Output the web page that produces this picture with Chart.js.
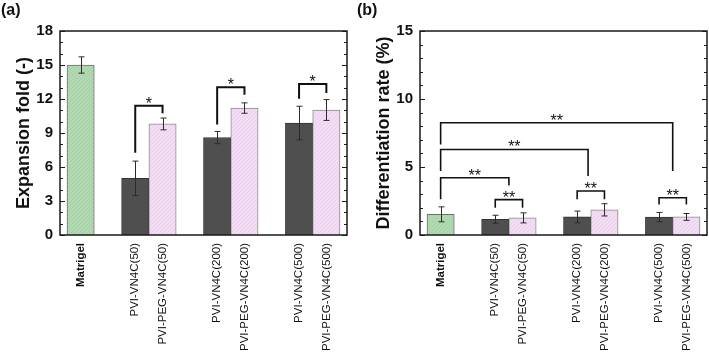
<!DOCTYPE html>
<html><head><meta charset="utf-8">
<script src="https://cdn.jsdelivr.net/npm/chart.js@4"></script>
<style>
html,body{margin:0;padding:0;background:#fff;width:709px;height:353px;overflow:hidden;}
.panel{position:absolute;top:0;height:353px;}
#pa{left:0;width:355px;}
#pb{left:355px;width:354px;}
.lbl{position:absolute;top:1px;font:bold 16px "Liberation Sans",Arial,sans-serif;color:#111;}
</style></head><body>
<div class="panel" id="pa"><canvas id="ca"></canvas></div>
<div class="panel" id="pb"><canvas id="cb"></canvas></div>
<div class="lbl" style="left:1px">(a)</div>
<div class="lbl" style="left:357px">(b)</div>
<script>
const FONT = '"Liberation Sans", Arial, sans-serif';

// ---- data ----
const groups = [
  ['Matrigel'],
  ['PVI-VN4C(50)', 'PVI-PEG-VN4C(50)'],
  ['PVI-VN4C(200)', 'PVI-PEG-VN4C(200)'],
  ['PVI-VN4C(500)', 'PVI-PEG-VN4C(500)']
];
const expansionFold = [15.0, 5.0, 9.8, 8.6, 11.2, 9.88, 11.03];
const expansionErr  = [0.72, 1.52, 0.52, 0.54, 0.46, 1.48, 0.92];
const diffRate      = [1.52, 1.16, 1.26, 1.33, 1.85, 1.32, 1.33];
const diffErr       = [0.55, 0.29, 0.37, 0.43, 0.45, 0.34, 0.25];
const expansionTicks = [0, 3, 6, 9, 12, 15, 18];
const diffTicks      = [0, 5, 10, 15];
// brackets: from/to in category index units, top and leg ends in value units
const expansionBrackets = [
  {from: 1, to: 2, top: 11.4,  ends: [7.25, 10.75], label: '*'},
  {from: 3, to: 4, top: 13.03, ends: [9.74, 12.38], label: '*'},
  {from: 5, to: 6, top: 13.32, ends: [12.03, 12.53], label: '*'}
];
const diffBrackets = [
  {from: 1, to: 2, top: 2.6,  ends: [2.0, 2.0],   label: '**'},
  {from: 3, to: 4, top: 3.23, ends: [2.62, 2.62], label: '**'},
  {from: 5, to: 6, top: 2.74, ends: [2.25, 2.25], label: '**'},
  {from: 0, to: 1.5, top: 4.21, ends: [2.62, 3.64], label: '**'},
  {from: 0, to: 3.4, top: 6.29, ends: [4.7, 4.33],  label: '**'},
  {from: 0, to: 5.5, top: 8.25, ends: [6.65, 4.7],  label: '**'}
];

// ---- derived tables ----
const categories = groups.flat();
const slots = [], slotLabels = [], slotGroup = [];
groups.forEach((g, gi) => {
  if (gi > 0) { slotLabels.push(''); slotGroup.push(-1); }
  g.forEach(c => { slots.push(slotLabels.length); slotLabels.push(c); slotGroup.push(gi); });
});
function catToSlot(c) {
  const i = Math.floor(c), f = c - i;
  if (f === 0 || i + 1 >= slots.length) return slots[Math.min(i, slots.length - 1)];
  return slots[i] + f * (slots[i + 1] - slots[i]);
}

function makePattern(base, line) {
  const c = document.createElement('canvas'); c.width = 4; c.height = 4;
  const g = c.getContext('2d');
  g.fillStyle = base; g.fillRect(0, 0, 4, 4);
  g.fillStyle = line;
  for (let i = 0; i < 4; i++) g.fillRect(i, 3 - i, 1, 1);
  return g.createPattern(c, 'repeat');
}
const greenFill = makePattern('#b2d9b2', '#a3d0a3');
const pinkFill  = makePattern('#f2ddf4', '#e8d0eb');
function fillFor(name) {
  if (name.startsWith('PVI-PEG')) return pinkFill;
  if (name.startsWith('PVI')) return '#4f4f4f';
  return greenFill;
}
function borderFor(name) {
  if (name.startsWith('PVI-PEG')) return '#8a8a8a';
  if (name.startsWith('PVI')) return '#333333';
  return '#6e6e6e';
}

const decor = {
  id: 'decor',
  afterDatasetsDraw(chart, args, o) {
    const {ctx, chartArea: a, scales: {x, y}} = chart;
    ctx.save();
    // error bars
    ctx.strokeStyle = '#2b2b2b'; ctx.lineWidth = 1;
    o.values.forEach((v, i) => {
      const px = Math.round(x.getPixelForValue(slots[i])) + 0.5;
      const hi = y.getPixelForValue(v + o.errs[i]), lo = y.getPixelForValue(v - o.errs[i]);
      ctx.beginPath();
      ctx.moveTo(px, hi); ctx.lineTo(px, lo);
      ctx.moveTo(px - 3, hi); ctx.lineTo(px + 3, hi);
      ctx.moveTo(px - 3, lo); ctx.lineTo(px + 3, lo);
      ctx.stroke();
    });
    // frame
    ctx.strokeStyle = '#1a1a1a'; ctx.lineWidth = 1.5;
    ctx.strokeRect(a.left, a.top, a.right - a.left, a.bottom - a.top);
    // ticks (inward, left and right)
    ctx.lineWidth = 1;
    for (let v = 0; v <= y.max + 1e-9; v += 1) {
      const py = Math.round(y.getPixelForValue(v)) + 0.5;
      const len = o.yTicks.includes(v) ? 5 : 3;
      ctx.beginPath();
      ctx.moveTo(a.left, py); ctx.lineTo(a.left + len, py);
      ctx.moveTo(a.right, py); ctx.lineTo(a.right - len, py);
      ctx.stroke();
    }
    // category labels (rotated, reading upward, ending near the axis)
    ctx.fillStyle = '#111'; ctx.textAlign = 'right'; ctx.textBaseline = 'middle';
    slotLabels.forEach((lab, i) => {
      if (!lab) return;
      ctx.save();
      ctx.translate(x.getPixelForValue(i), a.bottom + 8);
      ctx.rotate(-Math.PI / 2);
      ctx.font = (slotGroup[i] === 0 ? 'bold ' : '') + '11.5px ' + FONT;
      ctx.fillText(lab, 0, 0);
      ctx.restore();
    });
    // significance brackets
    ctx.strokeStyle = '#111'; ctx.fillStyle = '#111'; ctx.lineWidth = o.bracketWidth;
    ctx.font = '16px ' + FONT; ctx.textAlign = 'center'; ctx.textBaseline = 'alphabetic';
    o.brackets.forEach(b => {
      const x1 = x.getPixelForValue(catToSlot(b.from)), x2 = x.getPixelForValue(catToSlot(b.to));
      const yt = y.getPixelForValue(b.top);
      ctx.beginPath();
      ctx.moveTo(x1, y.getPixelForValue(b.ends[0]));
      ctx.lineTo(x1, yt); ctx.lineTo(x2, yt);
      ctx.lineTo(x2, y.getPixelForValue(b.ends[1]));
      ctx.stroke();
      ctx.fillText(b.label, (x1 + x2) / 2, yt + 3);
    });
    ctx.restore();
  }
};

function makeChart(id, cfg) {
  const margin = 0.756;
  return new Chart(document.getElementById(id), {
    type: 'bar',
    data: {
      datasets: [{
        data: categories.map((c, i) => ({x: slots[i], y: cfg.values[i]})),
        backgroundColor: categories.map(fillFor),
        borderColor: categories.map(borderFor),
        borderWidth: 1,
        barPercentage: 1,
        categoryPercentage: 1
      }]
    },
    options: {
      responsive: true, maintainAspectRatio: false, animation: false,
      layout: {padding: {top: 31, right: cfg.padRight, left: 0, bottom: 0}},
      plugins: {legend: {display: false}, tooltip: {enabled: false},
        decor: {values: cfg.values, errs: cfg.errs, yTicks: cfg.yTicks, brackets: cfg.brackets, bracketWidth: cfg.bracketWidth}},
      scales: {
        x: {
          type: 'linear', offset: false, min: -margin, max: slotLabels.length - 1 + margin,
          afterBuildTicks: s => { s.ticks = slotLabels.map((_, i) => ({value: i})); },
          grid: {display: false, drawTicks: false}, border: {display: false},
          ticks: {display: false},
          afterFit: s => { s.height = 118; }
        },
        y: {
          min: 0, max: cfg.yTicks[cfg.yTicks.length - 1],
          afterBuildTicks: s => { s.ticks = cfg.yTicks.map(v => ({value: v})); },
          grid: {display: false, drawTicks: false}, border: {display: false},
          ticks: {font: {family: FONT, size: 15, weight: 'bold'}, color: '#111', padding: 7},
          title: {display: true, text: cfg.title, color: '#111',
            font: {family: FONT, size: 18, weight: 'bold'}, padding: {top: cfg.titlePad, bottom: 0}},
          afterFit: s => { s.width = cfg.axisWidth; }
        }
      }
    },
    plugins: [decor]
  });
}

makeChart('ca', {values: expansionFold, errs: expansionErr, yTicks: expansionTicks, brackets: expansionBrackets,
  bracketWidth: 2, title: 'Expansion fold (-)', axisWidth: 60, padRight: 8, titlePad: 13});
makeChart('cb', {values: diffRate, errs: diffErr, yTicks: diffTicks, brackets: diffBrackets,
  bracketWidth: 1.6, title: 'Differentiation rate (%)', axisWidth: 65, padRight: 2, titlePad: 18});
</script>
</body></html>
